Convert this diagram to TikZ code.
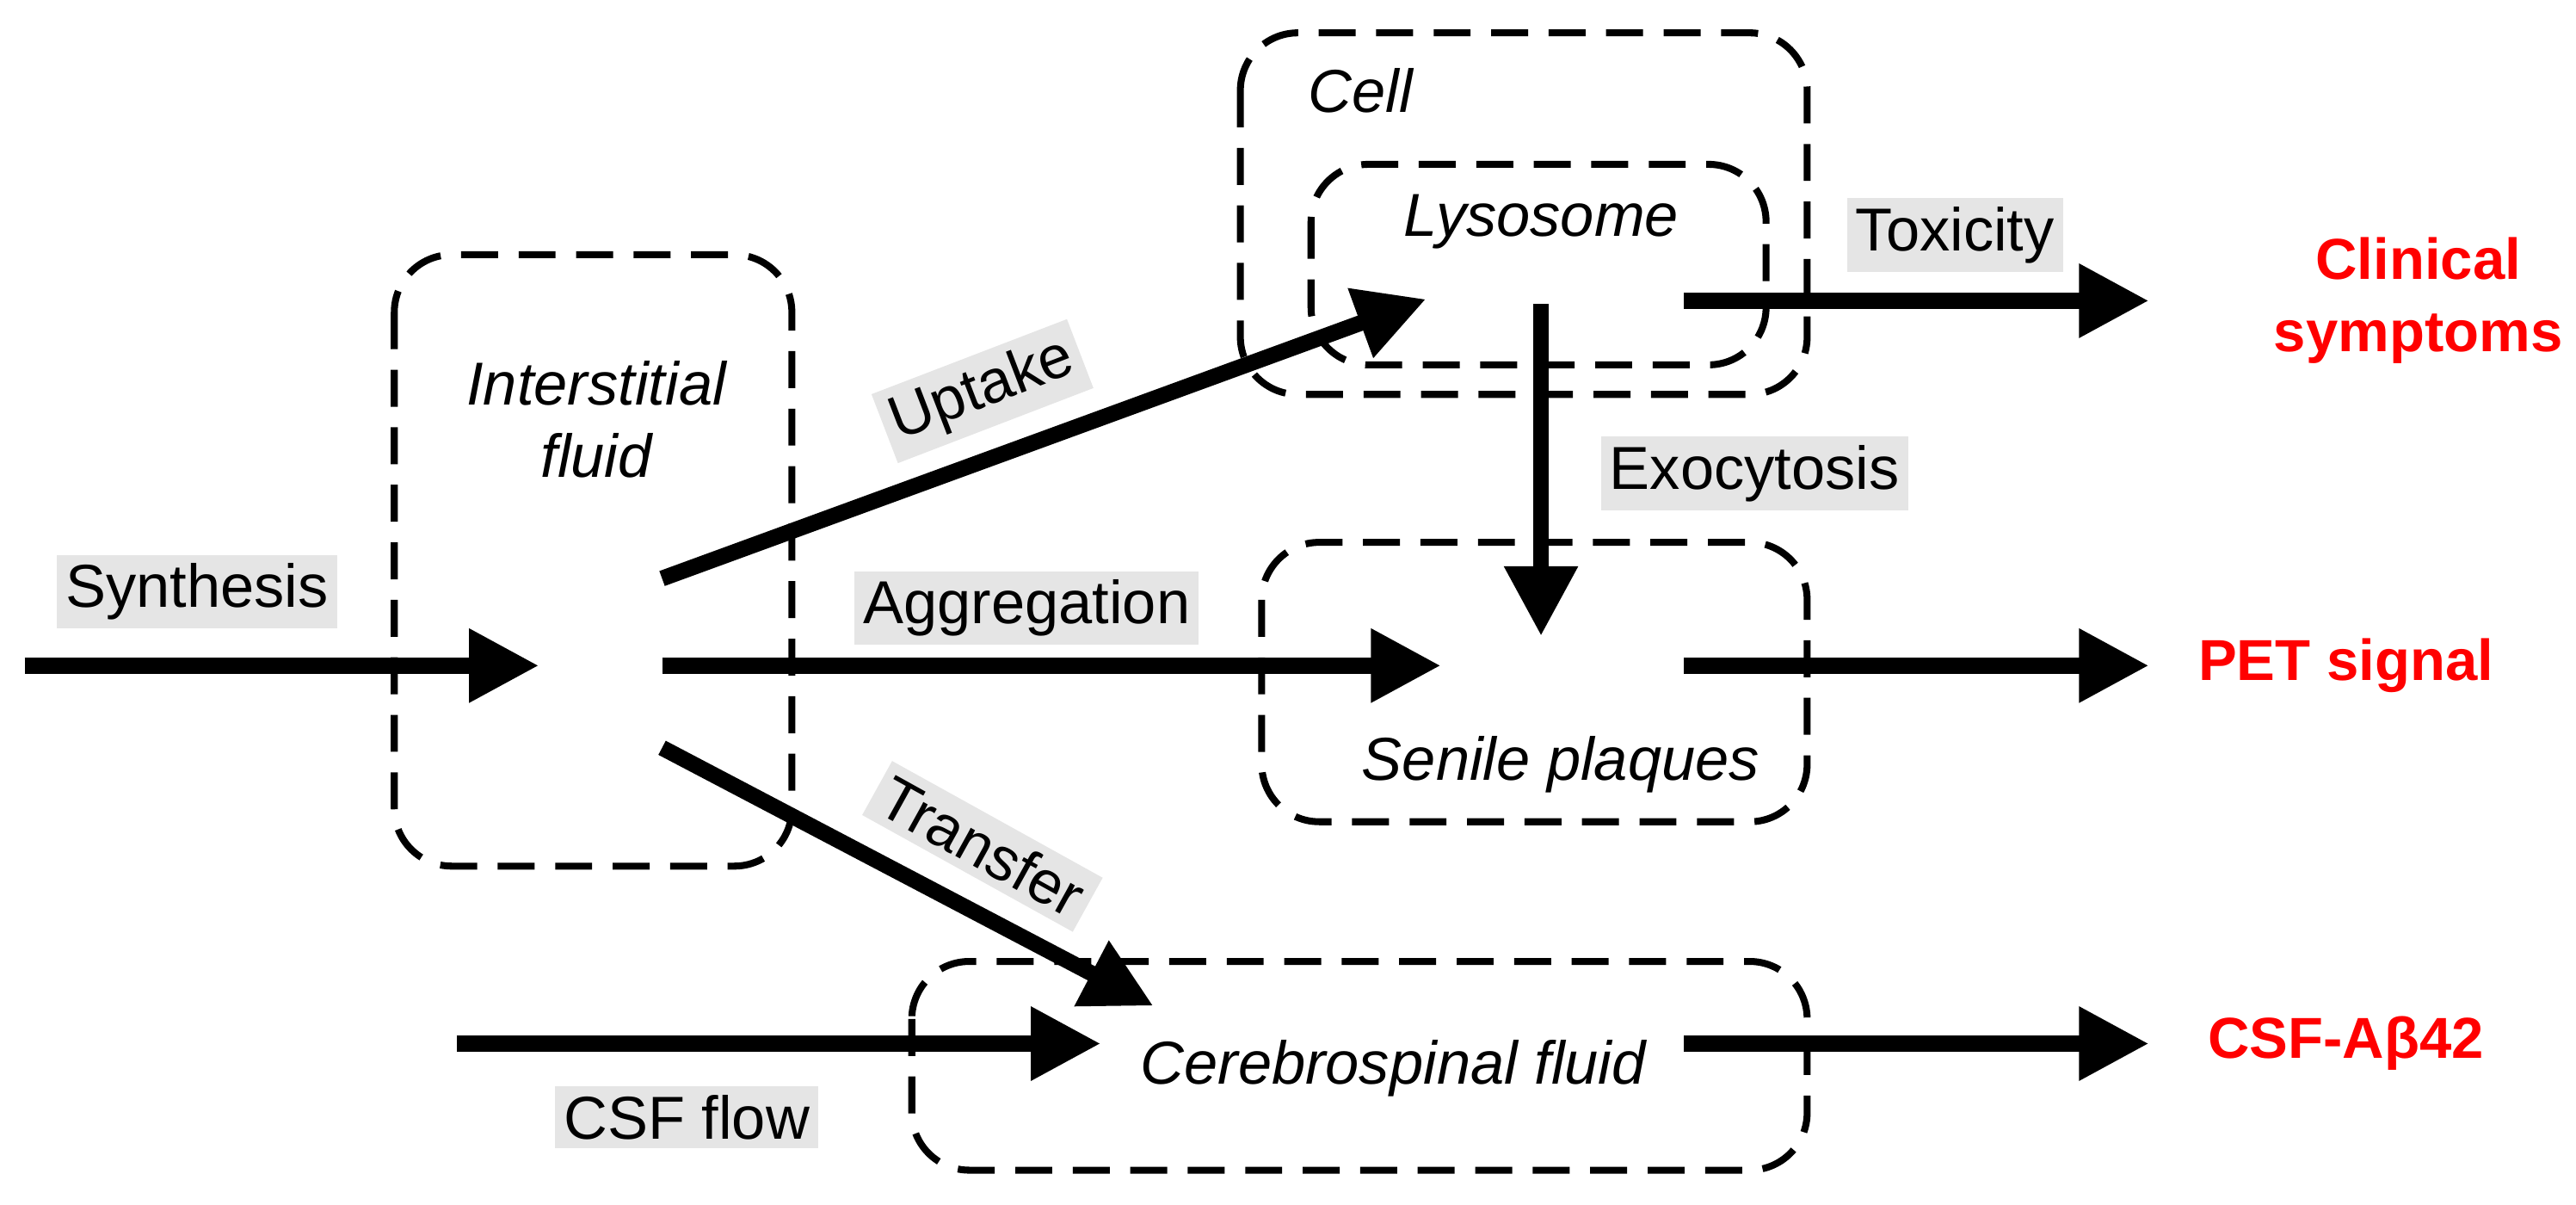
\documentclass[tikz,border=0pt]{standalone}
\usepackage{fontspec}
\setmainfont{Liberation Sans}
\usetikzlibrary{arrows.meta}
\begin{document}
\begin{tikzpicture}[x=0.02cm,y=-0.02cm,
  box/.style={draw,line width=2.4pt,dash pattern=on 0.45cm off 0.25cm,rounded corners=0.7cm},
  arr/.style={line width=5.5pt,-{Triangle[length=0.85cm,width=0.85cm]}},
  lab/.style={fill=black!10,inner sep=3pt,font=\fontsize{21}{25}\selectfont},
  it/.style={font=\fontsize{21}{25}\selectfont\itshape,align=center},
  result/.style={text=red,font=\fontsize{20}{25}\selectfont\bfseries,align=center}]
\useasboundingbox (0,0) rectangle (1568,733);
% boxes
\draw[box] (240,155) rectangle (482,527);
\draw[box] (755,20) rectangle (1100,240);
\draw[box] (798,100) rectangle (1075,222);
\draw[box] (768,330) rectangle (1100,500);
\draw[box] (555,585) rectangle (1100,712);
\node[it] (isf) at (363,255) {Interstitial\\fluid};
\node[it] (cell) at (828,55) {Cell};
\node[it] (lys) at (938,135) {Lysosome};
\node[it] (sp) at (950,465) {Senile plaques};
\node[it] (csf) at (848,650) {Cerebrospinal fluid};
% coordinates
\coordinate (s0) at (15,405); \coordinate (s1) at (328,405);
\coordinate (u0) at (403,352); \coordinate (u1) at (868,182);
\coordinate (a0) at (403,405); \coordinate (a1) at (877,405);
\coordinate (t0) at (403,455); \coordinate (t1) at (702,612);
\coordinate (c0) at (278,635); \coordinate (c1) at (670,635);
\coordinate (e0) at (938,185); \coordinate (e1) at (938,387);
\coordinate (x0) at (1025,183); \coordinate (x1) at (1308,183);
\coordinate (p0) at (1025,405); \coordinate (p1) at (1308,405);
\coordinate (f0) at (1025,635); \coordinate (f1) at (1308,635);
\draw[arr] (s0) -- (s1);
\draw[arr] (u0) -- (u1);
\draw[arr] (a0) -- (a1);
\draw[arr] (t0) -- (t1);
\draw[arr] (c0) -- (c1);
\draw[arr] (e0) -- (e1);
\draw[arr] (x0) -- (x1);
\draw[arr] (p0) -- (p1);
\draw[arr] (f0) -- (f1);
% labels
\node[lab] (l1) at (120,360) {Synthesis};
\node[lab,rotate=21] (l2) at (598,238) {Uptake};
\node[lab] (l3) at (625,370) {Aggregation};
\node[lab,rotate=-29] (l4) at (598,515) {Transfer};
\node[lab] (l5) at (418,680) {CSF flow};
\node[lab] (l6) at (1068,288) {Exocytosis};
\node[lab] (l7) at (1190,143) {Toxicity};
\node[result] (o1) at (1472,183) {Clinical\\symptoms};
\node[result] (o2) at (1428,405) {PET signal};
\node[result] (o3) at (1428,635) {CSF-Aβ42};
\end{tikzpicture}
\end{document}
